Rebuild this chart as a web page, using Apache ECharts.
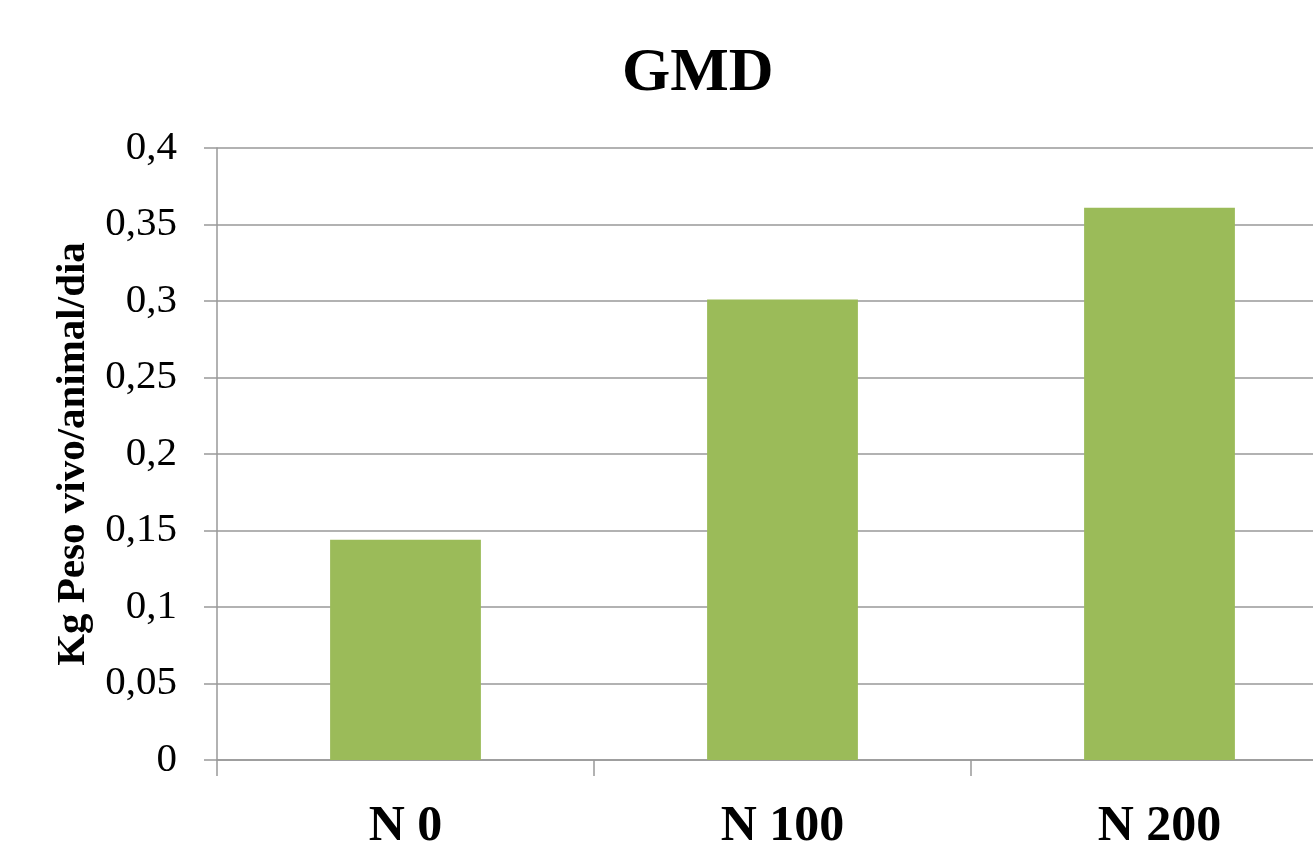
<!DOCTYPE html>
<html>
<head>
<meta charset="utf-8">
<title>GMD</title>
<script src="https://cdn.jsdelivr.net/npm/echarts@6/dist/echarts.min.js"></script>
<style>
  html, body { margin: 0; padding: 0; background: #ffffff; overflow: hidden; }
  /* the plot runs past the right edge of the window; the last category is cut off */
  #chart { width: 1348px; height: 844px; }
</style>
</head>
<body>
<div id="chart"></div>
<script>
// Average daily gain by nitrogen dose
const categories = ['N 0', 'N 100', 'N 200'];
const gainValues = [0.144, 0.301, 0.361];
const yTicks = { min: 0, max: 0.4, interval: 0.05 };

const chart = echarts.init(document.getElementById('chart'), null, { renderer: 'canvas' });

const serif = '"Liberation Serif", "Times New Roman", serif';
const gridColor = '#999999';

chart.setOption({
  backgroundColor: '#ffffff',
  animation: false,
  graphic: [{
    type: 'text',
    left: 622,
    top: 43,
    style: {
      text: 'GMD',
      font: 'bold 62px ' + serif,
      fill: '#000000'
    }
  }],
  grid: {
    left: 217,
    top: 148,
    right: 0,
    bottom: 84,
    outerBoundsMode: 'none',
    containLabel: false
  },
  xAxis: {
    type: 'category',
    data: categories,
    axisLine: { show: true, lineStyle: { color: gridColor, width: 1.5 } },
    axisTick: { show: true, length: 16, lineStyle: { color: gridColor, width: 1.5 } },
    axisLabel: {
      margin: 42,
      fontFamily: serif,
      fontWeight: 'bold',
      fontSize: 50,
      color: '#000000'
    }
  },
  yAxis: {
    type: 'value',
    min: yTicks.min,
    max: yTicks.max,
    interval: yTicks.interval,
    name: 'Kg Peso vivo/animal/dia',
    nameLocation: 'middle',
    nameGap: 115,
    nameTextStyle: {
      fontFamily: serif,
      fontWeight: 'bold',
      fontSize: 41,
      color: '#000000'
    },
    axisLine: { show: true, lineStyle: { color: gridColor, width: 1.5 } },
    axisTick: { show: true, length: 13, lineStyle: { color: gridColor, width: 1.5 } },
    splitLine: { show: true, lineStyle: { color: gridColor, width: 1.5 } },
    axisLabel: {
      margin: 40,
      fontFamily: serif,
      fontSize: 41,
      color: '#000000',
      formatter: function (v) {
        return String(Math.round(v * 100) / 100).replace('.', ',');
      }
    }
  },
  series: [{
    type: 'bar',
    data: gainValues,
    barWidth: '40%',
    itemStyle: { color: '#9BBB59' }
  }]
});
</script>
</body>
</html>
